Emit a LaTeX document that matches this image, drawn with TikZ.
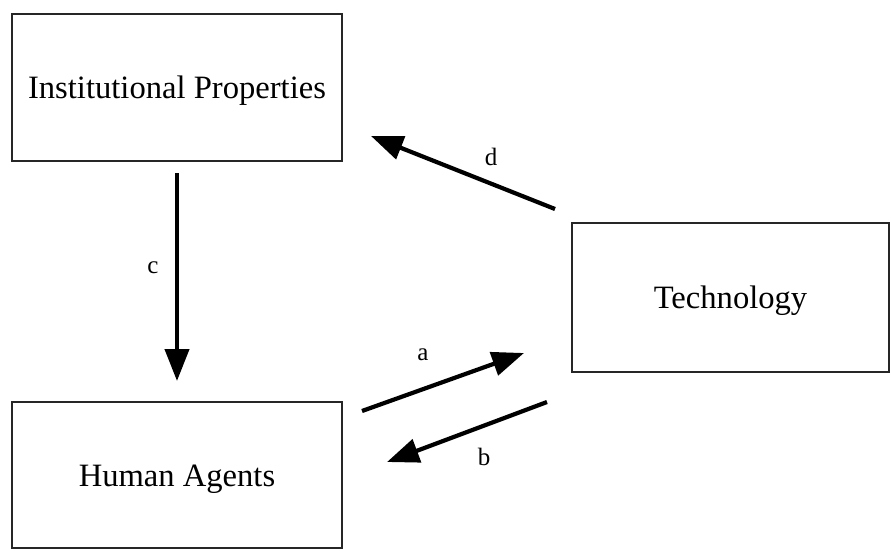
\documentclass[tikz,border=0pt]{standalone}
\usepackage{fontspec}
\setmainfont{Liberation Serif}
\usetikzlibrary{arrows.meta}
\begin{document}
\begin{tikzpicture}[x=1pt,y=-1pt,
  box/.style={draw=black!85,line width=2pt,inner sep=0pt,text height=22pt,text depth=0pt,font=\fontsize{32.6}{36}\selectfont},
  lbl/.style={inner sep=0pt,font=\fontsize{25}{28}\selectfont},
  arr/.style={line width=4.2pt,-{Triangle[length=32pt,width=24pt]}}]
\useasboundingbox (0,0) rectangle (891,550);
\node[box,minimum width=330pt,minimum height=147pt] (ip) at (177,87.5) {Institutional Properties};
\node[box,minimum width=317pt,minimum height=149pt] (tech) at (730.5,297.5) {Technology};
\node[box,minimum width=330pt,minimum height=146pt] (ha) at (177,475) {Human Agents};
\coordinate (cs) at (177,173);
\coordinate (ce) at (177,381);
\coordinate (ds) at (555,209);
\coordinate (de) at (371,136);
\coordinate (as) at (362,411);
\coordinate (ae) at (524,353);
\coordinate (bs) at (547,402);
\coordinate (be) at (387,462);
\draw[arr] (cs) -- (ce);
\draw[arr] (ds) -- (de);
\draw[arr] (as) -- (ae);
\draw[arr] (bs) -- (be);
\node[lbl] (lc) at (153,268) {c};
\node[lbl] (ld) at (491,157) {d};
\node[lbl] (la) at (423,355) {a};
\node[lbl] (lb) at (484,457) {b};
\end{tikzpicture}
\end{document}
